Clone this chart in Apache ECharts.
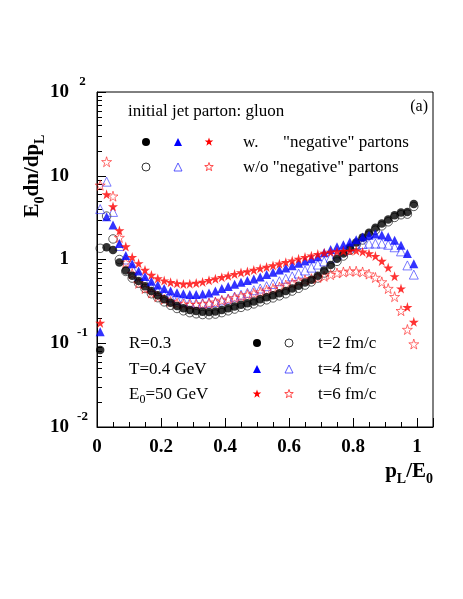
<!DOCTYPE html>
<html>
<head>
<meta charset="utf-8">
<script src="https://cdn.jsdelivr.net/npm/echarts@6/dist/echarts.min.js"></script>
<style>
  html, body { margin: 0; padding: 0; background: #fff; }
  #chart { width: 463px; height: 599px; }
</style>
</head>
<body>
<div id="chart"></div>
<script>
// p_L / E_0 positions of the points
const pL = [0.01, 0.03, 0.05, 0.07, 0.09, 0.11, 0.13, 0.15, 0.17, 0.19,
  0.21, 0.23, 0.25, 0.27, 0.29, 0.31, 0.33, 0.35, 0.37, 0.39,
  0.41, 0.43, 0.45, 0.47, 0.49, 0.51, 0.53, 0.55, 0.57, 0.59,
  0.61, 0.63, 0.65, 0.67, 0.69, 0.71, 0.73, 0.75, 0.77, 0.79,
  0.81, 0.83, 0.85, 0.87, 0.89, 0.91, 0.93, 0.95, 0.97, 0.99]

// t=2 fm/c
const t2With = [0.083, 1.40, 1.30, 0.92, 0.74, 0.64, 0.555, 0.48, 0.42, 0.375,
  0.336, 0.305, 0.279, 0.262, 0.25, 0.242, 0.237, 0.236, 0.24, 0.249,
  0.262, 0.275, 0.288, 0.30, 0.316, 0.335, 0.355, 0.373, 0.395, 0.42,
  0.45, 0.485, 0.53, 0.575, 0.64, 0.74, 0.86, 1.02, 1.18, 1.38,
  1.6, 1.83, 2.08, 2.39, 2.69, 3.0, 3.38, 3.65, 3.7, 4.6]
const t2Without = [1.36, 3.3, 1.76, 1.0, 0.72, 0.6, 0.52, 0.45, 0.39, 0.35,
  0.312, 0.284, 0.26, 0.244, 0.232, 0.225, 0.22, 0.219, 0.223, 0.232,
  0.244, 0.256, 0.268, 0.28, 0.295, 0.312, 0.33, 0.348, 0.368, 0.39,
  0.42, 0.453, 0.495, 0.54, 0.6, 0.69, 0.8, 0.95, 1.1, 1.29,
  1.5, 1.71, 1.95, 2.24, 2.52, 2.82, 3.18, 3.42, 3.48, 4.3]

// t=4 fm/c
const t4With = [0.137, 3.24, 2.58, 1.55, 1.12, 0.89, 0.73, 0.625, 0.55, 0.495,
  0.45, 0.42, 0.40, 0.39, 0.382, 0.382, 0.388, 0.397, 0.42, 0.45,
  0.475, 0.505, 0.535, 0.56, 0.585, 0.62, 0.66, 0.705, 0.75, 0.79,
  0.84, 0.9, 0.96, 1.02, 1.08, 1.2, 1.32, 1.42, 1.5, 1.62,
  1.72, 1.85, 1.95, 2.02, 1.96, 1.87, 1.70, 1.48, 1.18, 0.89]
const t4Without = [4.0, 8.5, 3.7, 1.45, 1.0, 0.78, 0.64, 0.54, 0.47, 0.42,
  0.38, 0.35, 0.33, 0.315, 0.305, 0.30, 0.30, 0.305, 0.31, 0.325,
  0.34, 0.36, 0.38, 0.40, 0.43, 0.45, 0.48, 0.51, 0.55, 0.59,
  0.63, 0.68, 0.74, 0.80, 0.87, 0.95, 1.05, 1.15, 1.28, 1.40,
  1.48, 1.53, 1.55, 1.55, 1.55, 1.50, 1.40, 1.25, 0.85, 0.66]

// t=6 fm/c
const t6With = [0.175, 6.0, 4.3, 2.22, 1.43, 1.07, 0.9, 0.75, 0.655, 0.595,
  0.56, 0.535, 0.52, 0.51, 0.515, 0.525, 0.54, 0.565, 0.59, 0.615,
  0.64, 0.67, 0.70, 0.72, 0.75, 0.785, 0.815, 0.85, 0.89, 0.93,
  0.97, 1.02, 1.07, 1.11, 1.16, 1.2, 1.23, 1.25, 1.26, 1.27,
  1.28, 1.24, 1.18, 1.10, 0.96, 0.80, 0.63, 0.45, 0.27, 0.18]
const t6Without = [7.7, 14.7, 5.7, 1.83, 0.92, 0.68, 0.52, 0.45, 0.40, 0.36,
  0.335, 0.315, 0.30, 0.293, 0.29, 0.29, 0.295, 0.30, 0.31, 0.325,
  0.335, 0.35, 0.365, 0.38, 0.395, 0.41, 0.43, 0.45, 0.47, 0.495,
  0.52, 0.545, 0.57, 0.59, 0.61, 0.63, 0.66, 0.69, 0.71, 0.725,
  0.725, 0.71, 0.67, 0.61, 0.54, 0.45, 0.36, 0.245, 0.146, 0.098]

const xTicks = [0, 0.2, 0.4, 0.6, 0.8, 1]
const yDecades = [0.01, 0.1, 1, 10]

const serif = 'Liberation Serif'
const starPath = 'path://M50,0 L61,35 L98,35 L68,57 L79,91 L50,70 L21,91 L32,57 L2,35 L39,35 Z'

function pairs (ys) {
  return pL.map((x, i) => [x, ys[i]])
}

function starPoints (cx, cy, r) {
  let pts = []
  for (let i = 0; i < 10; i++) {
    let a = -Math.PI / 2 + i * Math.PI / 5
    let rr = i % 2 === 0 ? r : r * 0.4
    pts.push([cx + rr * Math.cos(a), cy + rr * Math.sin(a)])
  }
  return pts
}
function triPoints (cx, cy, s) {
  return [[cx, cy - s / 2], [cx + s / 2, cy + s / 2], [cx - s / 2, cy + s / 2]]
}

// legend marker helpers (filled / open)
function mCircle (cx, cy, filled) {
  return { type: 'circle', shape: { cx: cx, cy: cy, r: 4 },
    style: filled ? { fill: '#000' } : { fill: 'none', stroke: '#000', lineWidth: 0.8 } }
}
function mTri (cx, cy, filled) {
  return { type: 'polygon', shape: { points: triPoints(cx, cy, 8) },
    style: filled ? { fill: '#0000ff' } : { fill: 'none', stroke: '#3030ff', lineWidth: 0.8 } }
}
function mStar (cx, cy, filled) {
  return { type: 'polygon', shape: { points: starPoints(cx, cy, 4.5) },
    style: filled ? { fill: '#ff0000' } : { fill: 'none', stroke: '#ff2020', lineWidth: 0.8 } }
}
function txt (x, y, text, extra) {
  return { type: 'text', x: x, y: y,
    style: Object.assign({ text: text, fill: '#000', font: '17px "Liberation Serif"', verticalAlign: 'middle' }, extra || {}) }
}

const chart = echarts.init(document.getElementById('chart'))

const option = {
  animation: false,
  backgroundColor: '#fff',
  grid: {
    left: 97, right: 30, top: 92, bottom: 172,
    show: true, borderColor: '#000', borderWidth: 1, backgroundColor: 'transparent'
  },
  xAxis: {
    type: 'value',
    min: 0,
    max: 1.05,
    interval: 0.2,
    splitLine: { show: false },
    axisLine: { lineStyle: { color: '#000' } },
    axisTick: { inside: true, length: 9, lineStyle: { color: '#000' } },
    minorTick: { show: true, splitNumber: 4, length: 5, lineStyle: { color: '#000' } },
    axisLabel: {
      margin: 11,
      fontFamily: serif, fontWeight: 'bold', fontSize: 19, color: '#000',
      formatter: function (v) {
        let hit = xTicks.find(t => Math.abs(t - v) < 1e-6)
        return hit === undefined ? '' : String(hit)
      }
    }
  },
  yAxis: {
    type: 'log',
    logBase: 10,
    min: 0.01,
    max: 100,
    splitLine: { show: false },
    axisLine: { show: true, lineStyle: { color: '#000' } },
    axisTick: { inside: true, length: 9, lineStyle: { color: '#000' } },
    minorTick: { show: false },
    axisLabel: {
      margin: 7,
      formatter: function (v) {
        let e = Math.round(Math.log10(v))
        if (e === 0) return '{b|1}{n|}'
        if (e === 1) return '{b|10}{n|}'
        return '{b|10}{s|' + e + '}'
      },
      rich: {
        b: { fontFamily: serif, fontWeight: 'bold', fontSize: 19, lineHeight: 34, color: '#000', verticalAlign: 'middle' },
        s: { fontFamily: serif, fontWeight: 'bold', fontSize: 13, lineHeight: 12, color: '#000', verticalAlign: 'top', width: 15, padding: [0, 0, 0, 6], align: 'left' },
        n: { width: 21, lineHeight: 12 }
      }
    }
  },
  series: [
    { name: 't2 w/o', type: 'scatter', data: pairs(t2Without), symbol: 'circle', symbolSize: 8.5,
      itemStyle: { color: 'transparent', borderColor: '#000', borderWidth: 0.8 } },
    { name: 't4 w/o', type: 'scatter', data: pairs(t4Without), symbol: 'triangle', symbolSize: 9,
      itemStyle: { color: 'transparent', borderColor: '#3030ff', borderWidth: 0.8 } },
    { name: 't6 w/o', type: 'scatter', data: pairs(t6Without), symbol: starPath, symbolSize: 10,
      itemStyle: { color: 'transparent', borderColor: '#ff2020', borderWidth: 0.8 } },
    { name: 't2 w.', type: 'scatter', data: pairs(t2With), symbol: 'circle', symbolSize: 8.5,
      itemStyle: { color: '#000' } },
    { name: 't4 w.', type: 'scatter', data: pairs(t4With), symbol: 'triangle', symbolSize: 9,
      itemStyle: { color: '#0000ff' } },
    { name: 't6 w.', type: 'scatter', data: pairs(t6With), symbol: starPath, symbolSize: 10,
      itemStyle: { color: '#ff0000' } }
  ],
  graphic: [
    // axis titles
    {
      type: 'text', x: 33, y: 176, rotation: Math.PI / 2,
      style: {
        text: '{b|E}{sub|0}{b|dn/dp}{sub|L}',
        align: 'center', verticalAlign: 'middle',
        rich: {
          b: { fontFamily: serif, fontWeight: 'bold', fontSize: 21, lineHeight: 28, fill: '#000', verticalAlign: 'middle' },
          sub: { fontFamily: serif, fontWeight: 'bold', fontSize: 14, lineHeight: 13, fill: '#000', verticalAlign: 'bottom' }
        }
      }
    },
    {
      type: 'text', x: 433, y: 472,
      style: {
        text: '{b|p}{sub|L}{b|/E}{sub|0}',
        align: 'right', verticalAlign: 'middle',
        rich: {
          b: { fontFamily: serif, fontWeight: 'bold', fontSize: 21, lineHeight: 28, fill: '#000', verticalAlign: 'middle' },
          sub: { fontFamily: serif, fontWeight: 'bold', fontSize: 14, lineHeight: 13, fill: '#000', verticalAlign: 'bottom' }
        }
      }
    },
    // top legend
    txt(128, 112, 'initial jet parton: gluon'),
    txt(428, 107, '(a)', { align: 'right', font: '16px "Liberation Serif"' }),
    mCircle(146, 142, true), mTri(178, 142, true), mStar(209, 142, true),
    txt(243, 143, 'w.'),
    txt(283, 143, '"negative" partons'),
    mCircle(146, 167, false), mTri(178, 167, false), mStar(209, 167, false),
    txt(243, 168, 'w/o "negative" partons'),
    // bottom legend
    txt(129, 344, 'R=0.3'),
    txt(129, 370, 'T=0.4 GeV'),
    {
      type: 'text', x: 129, y: 395,
      style: {
        text: '{n|E}{sub|0}{n|=50 GeV}',
        verticalAlign: 'middle',
        rich: {
          n: { fontFamily: serif, fontSize: 17, lineHeight: 22, fill: '#000', verticalAlign: 'middle' },
          sub: { fontFamily: serif, fontSize: 12, lineHeight: 11, fill: '#000', verticalAlign: 'bottom' }
        }
      }
    },
    mCircle(257, 343, true), mCircle(289, 343, false), txt(318, 344, 't=2 fm/c'),
    mTri(257, 369, true), mTri(289, 369, false), txt(318, 370, 't=4 fm/c'),
    mStar(257, 394, true), mStar(289, 394, false), txt(318, 395, 't=6 fm/c')
  ]
}

chart.setOption(option)

// log minor ticks (2..9 in each decade), placed through the y axis scale
let x0 = chart.convertToPixel({ xAxisIndex: 0 }, 0)
for (let d of yDecades) {
  for (let k = 2; k <= 9; k++) {
    let py = Math.round(chart.convertToPixel({ yAxisIndex: 0 }, d * k)) + 0.5
    option.graphic.push({ type: 'line', silent: true,
      shape: { x1: x0, y1: py, x2: x0 + 5, y2: py },
      style: { stroke: '#000', lineWidth: 1 } })
  }
}
chart.setOption(option)
</script>
</body>
</html>
